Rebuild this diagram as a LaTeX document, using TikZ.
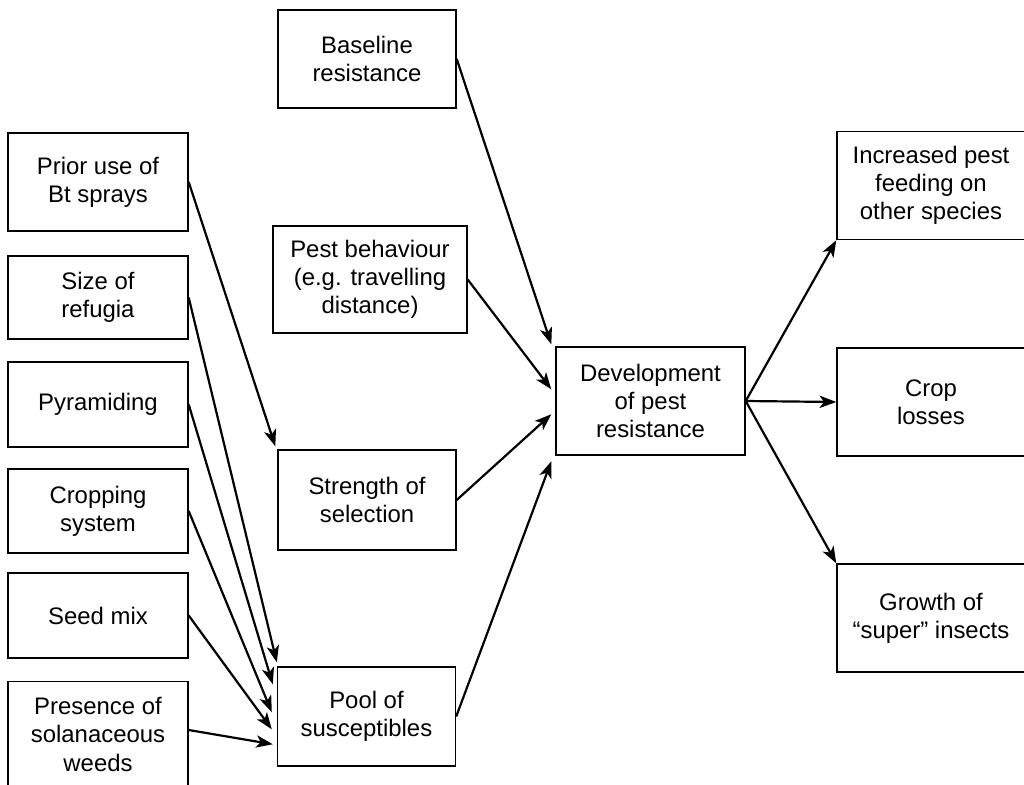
\documentclass[tikz,border=0pt]{standalone}
\usepackage{fontspec}
\setmainfont{Liberation Sans}
\usetikzlibrary{arrows.meta, positioning, calc}

\begin{document}
\begin{tikzpicture}[
    >=Stealth,
    arr/.style={-{Stealth[length=9.5pt, width=7pt, inset=2.5pt]}, line width=1.25pt},
    cell/.style={draw, line width=0.8pt, align=center, inner sep=0pt, font=\fontsize{13.6}{16}\selectfont},
    lcell/.style={cell, minimum width=3.6cm},
    mcell/.style={cell, minimum width=3.56cm, minimum height=1.98cm},
    rcell/.style={cell, minimum width=3.76cm, minimum height=2.16cm},
]
\useasboundingbox (0,0) rectangle (20.48,-15.7);
% === LEFT COLUMN: factors ===
\foreach \n/\y/\h/\t in {prior/-3.64/1.96/{Prior use of\\Bt sprays}, refug/-5.95/1.66/{Size of\\refugia}, pyram/-8.09/1.70/{Pyramiding}, cropsys/-10.22/1.68/{Cropping\\system}, seed/-12.31/1.70/{Seed mix}} {
    \node[lcell, minimum height=\h cm] (\n) at (1.96,\y) {\t};
}
\node[lcell, anchor=north, inner ysep=9pt, text depth=2.6cm] (weeds) at (1.96,-13.62) {Presence of\\solanaceous\\weeds};
% === MIDDLE COLUMN ===
\node[mcell, minimum height=1.96cm] (base) at (7.34,-1.18) {Baseline\\resistance};
\node[mcell, minimum width=3.88cm, minimum height=2.14cm] (behav) at (7.40,-5.59) {Pest behaviour\\(e.g. travelling\\distance)};
\node[mcell, minimum height=2.0cm] (select) at (7.34,-10.0) {Strength of\\selection};
\node[mcell] (pool) at (7.33,-14.33) {Pool of\\susceptibles};
\node[rcell, minimum width=3.78cm] (dev) at (13.01,-8.02) {Development\\of pest\\resistance};
% === RIGHT COLUMN: outcomes ===
\foreach \n/\y/\t in {incr/-3.71/{Increased pest\\feeding on\\other species}, croplo/-8.04/{Crop\\losses}, super/-12.36/{Growth of\\“super” insects}} {
    \node[rcell] (\n) at (18.62,\y) {\t};
}
% === Arrows ===
\draw[arr] (prior.east) -- ([shift={(-0.04,0.06)}]select.north west);
\foreach \n/\dx/\dy in {refug/0/0.08, pyram/-0.08/-0.36, cropsys/-0.10/-0.92, seed/-0.10/-1.26} {
    \draw[arr] (\n.east) -- ([shift={(\dx,\dy)}]pool.north west);
}
\draw[arr] ([yshift=-0.98cm]weeds.north east) -- ([shift={(-0.08,-1.56)}]pool.north west);
%
\draw[arr] (base.east) -- ([shift={(-0.08,0.04)}]dev.north west);
\draw[arr] (behav.east) -- ([shift={(-0.08,-0.86)}]dev.north west);
\draw[arr] (select.east) -- ([shift={(-0.08,-1.36)}]dev.north west);
\draw[arr] (pool.east) -- ([shift={(-0.08,-2.30)}]dev.north west);
%
\draw[arr] (dev.east) -- (incr.south west);
\draw[arr] (dev.east) -- (croplo.west);
\draw[arr] (dev.east) -- (super.north west);
\end{tikzpicture}
\end{document}
